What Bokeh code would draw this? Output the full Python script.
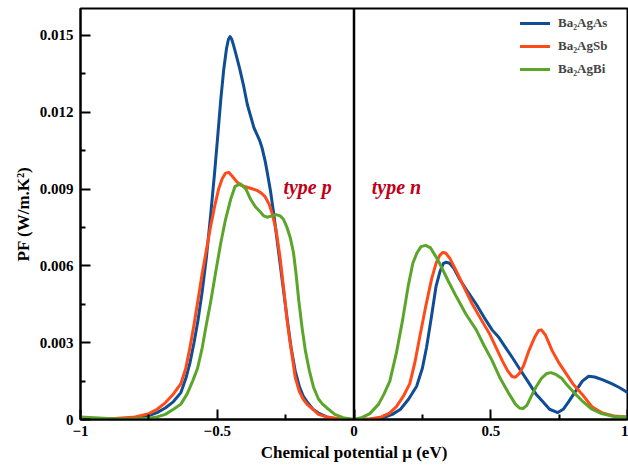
from bokeh.plotting import figure
from bokeh.models import FixedTicker, Span, Label, Legend, LegendItem, Range1d
from bokeh.embed import file_html
from bokeh.resources import INLINE

# ---- data ----
as_x = [-1.0, -0.9, -0.8, -0.75, -0.72, -0.69, -0.66, -0.633, -0.615, -0.6, -0.585, -0.57, -0.555,
        -0.54, -0.524, -0.51, -0.498, -0.487, -0.476, -0.466, -0.459, -0.453, -0.447, -0.44, -0.43,
        -0.418, -0.405, -0.39, -0.366, -0.345, -0.336, -0.325, -0.318, -0.305, -0.293, -0.28, -0.262,
        -0.244, -0.23, -0.215, -0.2, -0.185, -0.172, -0.15, -0.13, -0.1, -0.06, 0.0,
        0.06, 0.105, 0.14, 0.17, 0.2, 0.229, 0.25, 0.265, 0.283, 0.3, 0.315, 0.327, 0.337, 0.35,
        0.365, 0.385, 0.415, 0.447, 0.475, 0.505, 0.53, 0.555, 0.58, 0.604, 0.635, 0.665, 0.69,
        0.715, 0.745, 0.765, 0.785, 0.81, 0.835, 0.858, 0.88, 0.91, 0.942, 0.97, 1.0]
as_y = [0.0, 0.00001, 0.00005, 0.00015, 0.00027, 0.00045, 0.0007, 0.00105, 0.0016, 0.0022, 0.003,
        0.0039, 0.005, 0.0063, 0.008, 0.0096, 0.0111, 0.0125, 0.0137, 0.0145, 0.01485, 0.01495,
        0.01485, 0.0146, 0.0142, 0.0137, 0.0131, 0.0123, 0.0114, 0.0109, 0.0106, 0.0101, 0.0097,
        0.0089, 0.008, 0.0069, 0.0054, 0.0039, 0.0028, 0.0019, 0.0013, 0.0009, 0.0007, 0.0004,
        0.00025, 0.0001, 0.00002, 0.0,
        0.00002, 0.00006, 0.0002, 0.0004, 0.0008, 0.0013, 0.002, 0.0028, 0.004, 0.0052, 0.0058,
        0.0061, 0.00614, 0.0061, 0.0059, 0.0055, 0.005, 0.0045, 0.004, 0.0035, 0.0032, 0.0028,
        0.0024, 0.002, 0.0015, 0.001, 0.0007, 0.0004, 0.00027, 0.0004, 0.0007, 0.0011, 0.0015,
        0.00169, 0.00166, 0.00155, 0.0014, 0.00125, 0.00106]

sb_x = [-1.0, -0.9, -0.8, -0.75, -0.72, -0.69, -0.66, -0.633, -0.615, -0.6, -0.585, -0.57, -0.555,
        -0.54, -0.525, -0.51, -0.495, -0.482, -0.47, -0.458, -0.445, -0.43, -0.415, -0.4, -0.385,
        -0.37, -0.355, -0.34, -0.325, -0.31, -0.298, -0.285, -0.27, -0.255, -0.245, -0.235, -0.225,
        -0.215, -0.2, -0.186, -0.172, -0.15, -0.13, -0.1, -0.05, 0.0,
        0.058, 0.1, 0.13, 0.155, 0.18, 0.204, 0.222, 0.24, 0.262, 0.284, 0.3, 0.313, 0.324, 0.335,
        0.35, 0.374, 0.405, 0.433, 0.465, 0.495, 0.52, 0.542, 0.562, 0.578, 0.59, 0.605, 0.62, 0.64,
        0.66, 0.675, 0.685, 0.7, 0.712, 0.724, 0.75, 0.775, 0.8, 0.833, 0.87, 0.905, 0.95, 1.0]
sb_y = [0.0, 0.00002, 0.0001, 0.00023, 0.0004, 0.00065, 0.001, 0.0014, 0.002, 0.0028, 0.0037,
        0.0047, 0.0057, 0.0066, 0.0075, 0.0083, 0.009, 0.0094, 0.00962, 0.00965, 0.0095, 0.0093,
        0.00915, 0.0091, 0.00905, 0.009, 0.00895, 0.00885, 0.0087, 0.0084, 0.008, 0.0074, 0.0063,
        0.0049, 0.0039, 0.0031, 0.0024, 0.00165, 0.0011, 0.0008, 0.0006, 0.0004, 0.0002, 0.0001,
        0.00002, 0.0,
        0.00002, 0.0001, 0.00025, 0.0005, 0.0009, 0.0014, 0.0022, 0.0032, 0.0044, 0.0055, 0.0061,
        0.0064, 0.00652, 0.0065, 0.0063, 0.0058, 0.0051, 0.0045, 0.0039, 0.00336, 0.0028, 0.0023,
        0.0019, 0.00168, 0.00165, 0.0018, 0.0021, 0.0027, 0.0032, 0.00348, 0.0035, 0.0033, 0.003,
        0.0027, 0.0022, 0.0018, 0.0014, 0.001, 0.0005, 0.00027, 0.00014, 0.0001]

bi_x = [-1.0, -0.95, -0.9, -0.85, -0.8, -0.75, -0.72, -0.69, -0.66, -0.633, -0.61, -0.59, -0.572,
        -0.555, -0.54, -0.524, -0.505, -0.487, -0.47, -0.451, -0.435, -0.415, -0.395, -0.378, -0.36,
        -0.342, -0.33, -0.318, -0.3, -0.285, -0.27, -0.258, -0.245, -0.233, -0.221, -0.212, -0.202,
        -0.19, -0.178, -0.163, -0.148, -0.13, -0.115, -0.099, -0.07, -0.04, 0.0,
        0.03, 0.058, 0.09, 0.11, 0.131, 0.155, 0.178, 0.198, 0.215, 0.23, 0.245, 0.262, 0.28, 0.297,
        0.313, 0.345, 0.374, 0.41, 0.447, 0.475, 0.505, 0.535, 0.567, 0.59, 0.605, 0.618, 0.632,
        0.648, 0.665, 0.685, 0.705, 0.72, 0.74, 0.76, 0.775, 0.8, 0.833, 0.87, 0.905, 0.95, 1.0]
bi_y = [0.0001, 0.00007, 0.00004, 0.00002, 0.00002, 0.00005, 0.0001, 0.0002, 0.0004, 0.0006, 0.001,
        0.0015, 0.002, 0.0028, 0.0037, 0.0046, 0.0058, 0.0069, 0.0078, 0.0086, 0.0091, 0.0092,
        0.009, 0.0086, 0.0083, 0.0081, 0.00795, 0.0079, 0.00795, 0.008, 0.00795, 0.00782, 0.0075,
        0.0071, 0.0065, 0.0057, 0.00465, 0.0036, 0.0027, 0.0019, 0.00126, 0.0008, 0.0006, 0.00045,
        0.0002, 0.00007, 0.0,
        0.00008, 0.00023, 0.0006, 0.001, 0.0015, 0.0026, 0.0039, 0.0052, 0.0061, 0.0065, 0.00675,
        0.0068, 0.0067, 0.0064, 0.0061, 0.0054, 0.0048, 0.0041, 0.0035, 0.0029, 0.0023, 0.0016,
        0.001, 0.0006, 0.00045, 0.00043, 0.00055, 0.0009, 0.00126, 0.0016, 0.0018, 0.00183,
        0.00175, 0.0016, 0.0014, 0.0011, 0.00074, 0.0004, 0.00023, 0.00012, 0.0001]

series_names = ["Ba\u2082AgAs", "Ba\u2082AgSb", "Ba\u2082AgBi"]
series_colors = ["#0F4D94", "#FF4B1A", "#5BA52A"]

x_ticks = [-1, -0.5, 0, 0.5, 1]
x_tick_labels = ["\u22121", "\u22120.5", "0", "0.5", "1"]
x_minor = [-0.75, -0.25, 0.25, 0.75]
y_ticks = [0, 0.003, 0.006, 0.009, 0.012, 0.015]
y_tick_labels = ["0", "0.003", "0.006", "0.009", "0.012", "0.015"]
y_minor = [0.0015, 0.0045, 0.0075, 0.0105, 0.0135]

FONT = "Liberation Serif"

p = figure(width=628, height=466, output_backend="svg", toolbar_location=None,
           x_range=Range1d(-1, 1), y_range=Range1d(0, 0.01605),
           min_border_left=80, min_border_right=1, min_border_top=8, min_border_bottom=47)
p.background_fill_color = "white"
p.border_fill_color = "white"
p.outline_line_color = "black"
p.outline_line_width = 2
p.xgrid.visible = False
p.ygrid.visible = False

renderers = []
for xs, ys, c in zip([as_x, sb_x, bi_x], [as_y, sb_y, bi_y], series_colors):
    r = p.line(xs, ys, line_color=c, line_width=3, line_join="round", line_cap="round")
    renderers.append(r)

p.add_layout(Span(location=0, dimension="height", line_color="black", line_width=2.5))

for ax, ticks, labels, minor in [(p.xaxis[0], x_ticks, x_tick_labels, x_minor),
                                 (p.yaxis[0], y_ticks, y_tick_labels, y_minor)]:
    ax.ticker = FixedTicker(ticks=ticks, minor_ticks=minor)
    ax.major_label_overrides = {t: l for t, l in zip(ticks, labels)}
    ax.major_tick_in = 10
    ax.major_tick_out = 0
    ax.minor_tick_in = 5
    ax.minor_tick_out = 0
    ax.major_tick_line_width = 2
    ax.minor_tick_line_width = 2
    ax.axis_line_width = 2
    ax.major_label_text_font = FONT
    ax.major_label_text_font_style = "bold"
    ax.major_label_text_font_size = "15px"
    ax.major_label_text_color = "black"
    ax.axis_label_text_font = FONT
    ax.axis_label_text_font_style = "bold"
    ax.axis_label_text_font_size = "17px"
    ax.axis_label_text_color = "black"

p.xaxis.axis_label = "Chemical potential \u03bc (eV)"
p.xaxis.major_label_standoff = 6
p.xaxis.axis_label_standoff = 4
p.yaxis.axis_label = "PF (W/m.K\u00b2)"
p.yaxis.major_label_standoff = 7
p.yaxis.axis_label_standoff = 4

legend = Legend(items=[LegendItem(label=n, renderers=[r]) for n, r in zip(series_names, renderers)],
                location=(440, 340), padding=0, margin=0, spacing=3,
                glyph_width=30, glyph_height=20, label_height=20, label_standoff=8,
                border_line_color=None, background_fill_alpha=0,
                label_text_font=FONT, label_text_font_style="bold", label_text_font_size="13px")
p.add_layout(legend)

for txt, lx in [("type p", -0.258), ("type n", 0.065)]:
    p.add_layout(Label(x=lx, y=0.00906, text=txt, text_font=FONT, text_font_style="bold italic",
                       text_font_size="20px", text_color="#C00018", text_baseline="middle"))

open("out.html", "w").write(file_html(p, INLINE))
